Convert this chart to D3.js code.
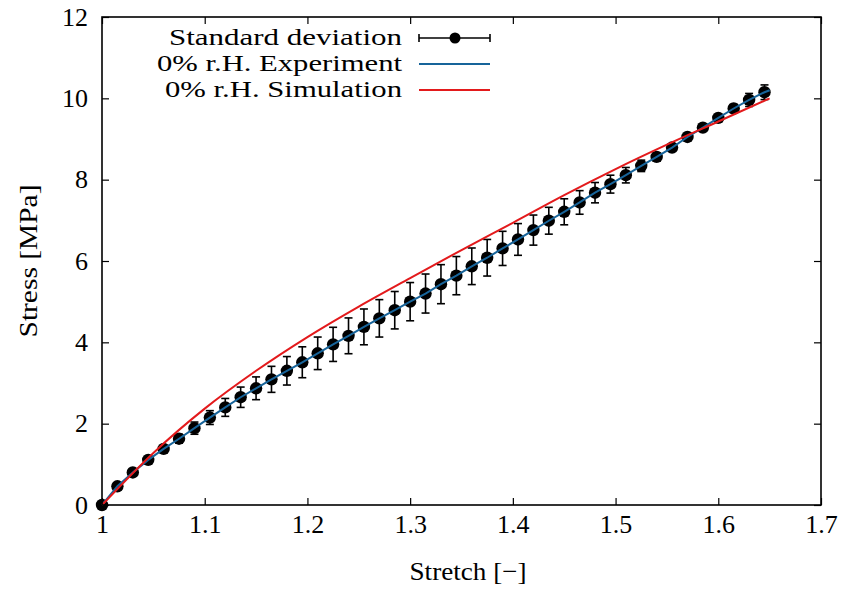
<!DOCTYPE html>
<html><head><meta charset="utf-8">
<script src="https://cdn.jsdelivr.net/npm/d3@7/dist/d3.min.js"></script>
<style>
body{margin:0;background:#fff;}
text{font-family:"Liberation Serif","Times New Roman",serif;fill:#000;}
</style></head>
<body><svg id="chart" width="845" height="590"></svg>
<script>
// ---- data ----
const stretch = [1.000,1.015,1.030,1.045,1.060,1.075,1.090,1.105,1.120,1.135,1.150,1.165,1.180,1.195,1.210,1.225,1.240,1.255,1.270,1.285,1.300,1.315,1.330,1.345,1.360,1.375,1.390,1.405,1.420,1.435,1.450,1.465,1.480,1.495,1.510,1.525,1.540,1.555,1.570,1.585,1.600,1.615,1.630,1.645];
const stressExp = [0,0.46,0.80,1.11,1.38,1.63,1.89,2.15,2.40,2.65,2.87,3.09,3.30,3.51,3.73,3.95,4.16,4.38,4.59,4.79,5.00,5.20,5.43,5.64,5.87,6.08,6.31,6.53,6.76,6.99,7.21,7.44,7.68,7.89,8.11,8.34,8.56,8.79,9.05,9.28,9.52,9.75,9.96,10.15];
const stressStd = [0.02,0.04,0.05,0.06,0.08,0.11,0.15,0.17,0.22,0.25,0.28,0.32,0.35,0.38,0.40,0.42,0.44,0.44,0.46,0.46,0.47,0.48,0.48,0.47,0.45,0.45,0.42,0.39,0.37,0.33,0.32,0.29,0.25,0.22,0.19,0.14,0.10,0.07,0.05,0.05,0.07,0.10,0.16,0.18];
const expLineEndX = [1.650];
const expLineEndY = [10.20];
const simStretch = [1.00,1.05,1.10,1.15,1.20,1.25,1.30,1.35,1.40,1.45,1.50,1.55,1.60,1.65];
const simStress  = [0,1.28,2.37,3.30,4.13,4.88,5.58,6.27,6.94,7.62,8.26,8.86,9.43,10.00];
const xTicks = [1,1.1,1.2,1.3,1.4,1.5,1.6,1.7];
const xTickLabels = ["1","1.1","1.2","1.3","1.4","1.5","1.6","1.7"];
const yTicks = [0,2,4,6,8,10,12];
const yTickLabels = ["0","2","4","6","8","10","12"];
const legendLabels = ["Standard deviation","0% r.H. Experiment","0% r.H. Simulation"];
const xTitle = "Stretch [\u2212]";
const yTitle = "Stress [MPa]";

// ---- layout ----
const L=102,R=821,T=17,B=505;
const svg = d3.select("#chart");
const x = d3.scaleLinear().domain([1,1.7]).range([L,R]);
const y = d3.scaleLinear().domain([0,12]).range([B,T]);
const blue="#17649a", red="#e31a1c";
const fs=26;

// axes
const ax = (g)=>g.selectAll(".domain").remove();
svg.append("g").attr("transform",`translate(0,${B})`)
  .call(d3.axisBottom(x).tickValues(xTicks).tickFormat((d,i)=>xTickLabels[i]).tickSizeInner(-7).tickSizeOuter(0).tickPadding(10))
  .call(ax).call(g=>g.selectAll("text").attr("font-size",fs))
  .call(g=>g.selectAll("line").attr("stroke-width",1.2));
svg.append("g").attr("transform",`translate(0,${T})`)
  .call(d3.axisTop(x).tickValues(xTicks).tickFormat("").tickSizeInner(-7).tickSizeOuter(0))
  .call(ax).call(g=>g.selectAll("line").attr("stroke-width",1.2));
svg.append("g").attr("transform",`translate(${L},0)`)
  .call(d3.axisLeft(y).tickValues(yTicks).tickFormat((d,i)=>yTickLabels[i]).tickSizeInner(-7).tickSizeOuter(0).tickPadding(14))
  .call(ax).call(g=>g.selectAll("text").attr("font-size",fs))
  .call(g=>g.selectAll("line").attr("stroke-width",1.2));
svg.append("g").attr("transform",`translate(${R},0)`)
  .call(d3.axisRight(y).tickValues(yTicks).tickFormat("").tickSizeInner(-7).tickSizeOuter(0))
  .call(ax).call(g=>g.selectAll("line").attr("stroke-width",1.2));

// error bars + points
const pts = stretch.map((s,i)=>({s, v:stressExp[i], e:stressStd[i]}));
const eb = svg.append("g").attr("stroke","#000").attr("stroke-width",1.6);
pts.forEach(p=>{
  const xp=x(p.s), y1=y(p.v-p.e), y2=y(p.v+p.e);
  eb.append("line").attr("x1",xp).attr("x2",xp).attr("y1",y1).attr("y2",y2);
  eb.append("line").attr("x1",xp-4).attr("x2",xp+4).attr("y1",y1).attr("y2",y1);
  eb.append("line").attr("x1",xp-4).attr("x2",xp+4).attr("y1",y2).attr("y2",y2);
});
svg.append("g").selectAll("circle").data(pts).join("circle")
  .attr("cx",d=>x(d.s)).attr("cy",d=>y(d.v)).attr("r",6.2).attr("fill","#000");

// experiment line
const expLine = stretch.map((s,i)=>[s,stressExp[i]]).concat(expLineEndX.map((s,i)=>[s,expLineEndY[i]]));
svg.append("path").datum(expLine)
  .attr("d",d3.line().x(d=>x(d[0])).y(d=>y(d[1])))
  .attr("fill","none").attr("stroke",blue).attr("stroke-width",2);

// simulation line
svg.append("path").datum(simStretch.map((s,i)=>[s,simStress[i]]))
  .attr("d",d3.line().x(d=>x(d[0])).y(d=>y(d[1])).curve(d3.curveMonotoneX))
  .attr("fill","none").attr("stroke",red).attr("stroke-width",2);

// frame
svg.append("rect").attr("x",L).attr("y",T).attr("width",R-L).attr("height",B-T)
  .attr("fill","none").attr("stroke","#000").attr("stroke-width",1.6);

// legend
const legW=[233,245,237];
const rowsY=[38,64,90];
legendLabels.forEach((t,i)=>{
  svg.append("text").attr("x",402).attr("y",rowsY[i]+7).attr("text-anchor","end")
    .attr("font-size",23).attr("textLength",legW[i]).attr("lengthAdjust","spacingAndGlyphs").text(t);
});
const lg = svg.append("g");
lg.append("line").attr("x1",419).attr("x2",490).attr("y1",rowsY[0]).attr("y2",rowsY[0]).attr("stroke","#000").attr("stroke-width",1.6);
[419,490].forEach(xx=>lg.append("line").attr("x1",xx).attr("x2",xx).attr("y1",rowsY[0]-4).attr("y2",rowsY[0]+4).attr("stroke","#000").attr("stroke-width",1.6));
lg.append("circle").attr("cx",455).attr("cy",rowsY[0]).attr("r",5.5).attr("fill","#000");
lg.append("line").attr("x1",419).attr("x2",490).attr("y1",rowsY[1]).attr("y2",rowsY[1]).attr("stroke",blue).attr("stroke-width",2);
lg.append("line").attr("x1",419).attr("x2",490).attr("y1",rowsY[2]).attr("y2",rowsY[2]).attr("stroke",red).attr("stroke-width",2);

// axis titles
svg.append("text").attr("x",468).attr("y",580).attr("text-anchor","middle").attr("font-size",fs)
  .attr("textLength",117).attr("lengthAdjust","spacingAndGlyphs").text(xTitle);
svg.append("text").attr("transform","translate(37,261) rotate(-90)").attr("text-anchor","middle").attr("font-size",fs)
  .attr("textLength",153).attr("lengthAdjust","spacingAndGlyphs").text(yTitle);
</script></body></html>
